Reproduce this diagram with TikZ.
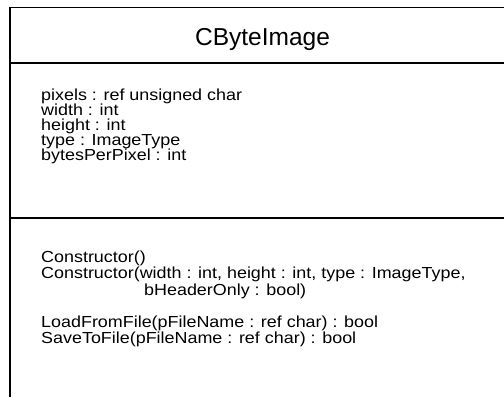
\documentclass[tikz,border=0pt]{standalone}
\usepackage{fontspec}
\setmainfont{Liberation Sans}
\newfontfamily\memberfont[FakeStretch=1.12]{Liberation Sans}
\usetikzlibrary{positioning}

\begin{document}
\begin{tikzpicture}[x=1pt, y=1pt,
    frame/.style={draw=black, line width=1.6pt},
    classname/.style={inner sep=0pt, anchor=base, font=\fontsize{24.5}{29}\selectfont},
    member/.style={inner sep=0pt, anchor=base west, font=\memberfont\fontsize{16}{20}\selectfont}
  ]
  \useasboundingbox (0,0) rectangle (504,-397);
  % class box, cut off on the right and at the bottom
  \draw[frame] (504,-7.5) -- (10,-7.5) -- (10,-397);
  \draw[frame] (10,-63) -- (504,-63);
  \draw[frame] (10,-218) -- (504,-218);
  \node[classname] (name) at (262.5,-45) {CByteImage};
  % attributes
  \node[member] (pixels) at (41,-100) {pixels : ref unsigned char};
  \node[member] (width) at (41,-115) {width : int};
  \node[member] (height) at (41,-130) {height : int};
  \node[member] (type) at (41,-145) {type : ImageType};
  \node[member] (bpp) at (41,-160) {bytesPerPixel : int};
  % operations
  \node[member] (ctor) at (41,-262) {Constructor()};
  \node[member] (ctorargs) at (41,-278.5) {Constructor(width : int, height : int, type : ImageType,};
  \node[member] (ctorrest) at (144,-295) {bHeaderOnly : bool)};
  \node[member] (load) at (41,-327) {LoadFromFile(pFileName : ref char) : bool};
  \node[member] (save) at (41,-343) {SaveToFile(pFileName : ref char) : bool};
\end{tikzpicture}
\end{document}
